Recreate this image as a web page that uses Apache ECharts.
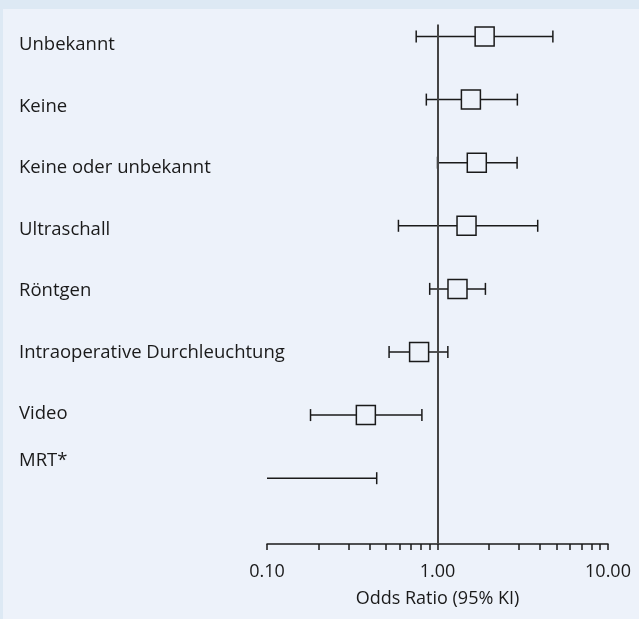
<!DOCTYPE html>
<html>
<head>
<meta charset="utf-8">
<script src="https://cdn.jsdelivr.net/npm/echarts@6/dist/echarts.min.js"></script>
<style>
  html, body { margin: 0; padding: 0; width: 639px; height: 619px; background: #dde9f4; overflow: hidden; }
  #panel { position: absolute; left: 3px; top: 9px; right: 0; bottom: 0; background: #edf2fa; }
  #chart { position: absolute; left: 0; top: 0; width: 639px; height: 619px; }
</style>
</head>
<body>
<div id="panel"></div>
<div id="chart"></div>
<script>
// Imaging groups, top to bottom
const categories = [
  'Unbekannt',
  'Keine',
  'Keine oder unbekannt',
  'Ultraschall',
  'Röntgen',
  'Intraoperative Durchleuchtung',
  'Video',
  'MRT*'
];
// Odds ratios with 95% confidence limits (MRT*: no point estimate, lower limit below axis range)
const oddsRatio = [1.89, 1.57, 1.70, 1.48, 1.31, 0.78, 0.38, null];
const lowerCI   = [0.75, 0.86, 1.00, 0.59, 0.90, 0.52, 0.18, 0.10];
const upperCI   = [4.75, 2.94, 2.93, 3.87, 1.91, 1.15, 0.81, 0.44];

const majorTicks = [0.1, 1, 10];
const allTicks = [0.1, 0.2, 0.3, 0.4, 0.5, 0.6, 0.7, 0.8, 0.9, 1,
                  2, 3, 4, 5, 6, 7, 8, 9, 10];

const axisMin = 0.1, axisMax = 10;
const FONT = '"Open Sans", "Noto Sans", sans-serif';
const INK = '#1a1a1a';
const PANEL = '#edf2fa';

const rows = categories.map((c, i) => [i, lowerCI[i], oddsRatio[i], upperCI[i]]);

const chart = echarts.init(document.getElementById('chart'), null, { renderer: 'canvas' });

function renderRow(params, api) {
  const row = api.value(0);
  const lo = api.value(1), est = api.value(2), hi = api.value(3);
  const pLo = api.coord([Math.max(lo, axisMin), row]);
  const pHi = api.coord([Math.min(hi, axisMax), row]);
  const y = pLo[1];
  const capH = 12, box = 19;
  const line = { stroke: INK, lineWidth: 1.5 };
  const children = [
    { type: 'line', shape: { x1: pLo[0], y1: y, x2: pHi[0], y2: y }, style: line }
  ];
  if (lo > axisMin) {
    children.push({ type: 'line', shape: { x1: pLo[0], y1: y - capH / 2, x2: pLo[0], y2: y + capH / 2 }, style: line });
  }
  if (hi < axisMax) {
    children.push({ type: 'line', shape: { x1: pHi[0], y1: y - capH / 2, x2: pHi[0], y2: y + capH / 2 }, style: line });
  }
  if (!isNaN(est) && est != null) {
    const pE = api.coord([est, row]);
    children.push({
      type: 'rect',
      shape: { x: pE[0] - box / 2, y: y - box / 2, width: box, height: box },
      style: { fill: PANEL, stroke: INK, lineWidth: 1.5 }
    });
  }
  return { type: 'group', children };
}

const lastLabel = categories[categories.length - 1];

chart.setOption({
  backgroundColor: 'transparent',
  animation: false,
  grid: [
    { left: 267, right: 31, top: 24.5, bottom: 75 },
    { left: 267, right: 31, top: 14.25, bottom: 112.75 }
  ],
  xAxis: [
    {
      gridIndex: 0,
      type: 'log',
      logBase: 10,
      min: axisMin,
      max: axisMax,
      name: 'Odds Ratio (95% KI)',
      nameLocation: 'middle',
      nameGap: 46,
      nameTextStyle: { fontFamily: FONT, fontSize: 18, color: INK },
      axisLine: { show: true, onZero: false, lineStyle: { color: INK, width: 1.5 } },
      axisTick: { show: true, inside: false, length: 6, customValues: allTicks, lineStyle: { color: INK, width: 1.5 } },
      axisLabel: {
        show: true, margin: 19, customValues: majorTicks,
        fontFamily: FONT, fontSize: 18, color: INK,
        formatter: v => Number(v).toFixed(2)
      },
      splitLine: { show: false },
      minorTick: { show: false }
    },
    {
      gridIndex: 1,
      type: 'value',
      show: false
    }
  ],
  yAxis: [
    {
      gridIndex: 0,
      type: 'value',
      inverse: true,
      min: -0.19,
      max: 8.043,
      show: false
    },
    {
      gridIndex: 1,
      type: 'category',
      inverse: true,
      data: categories,
      axisLine: { show: false },
      axisTick: { show: false },
      splitLine: { show: false },
      axisLabel: {
        align: 'left',
        margin: 248,
        fontFamily: FONT,
        fontSize: 18.5,
        color: INK,
        // footnoted last group sits a little higher than the regular spacing
        formatter: v => (v === lastLabel ? '{raised|' + v + '}' : v),
        rich: {
          raised: { fontFamily: FONT, fontSize: 18.5, color: INK, padding: [0, 0, 29, 0] }
        }
      }
    }
  ],
  series: [
    {
      type: 'custom',
      xAxisIndex: 0,
      yAxisIndex: 0,
      renderItem: renderRow,
      encode: { x: [1, 2, 3], y: 0 },
      data: rows,
      clip: false,
      silent: true,
      markLine: {
        silent: true,
        symbol: 'none',
        label: { show: false },
        lineStyle: { color: '#444', width: 2, type: 'solid' },
        data: [{ xAxis: 1 }]
      }
    }
  ]
});
</script>
</body>
</html>
